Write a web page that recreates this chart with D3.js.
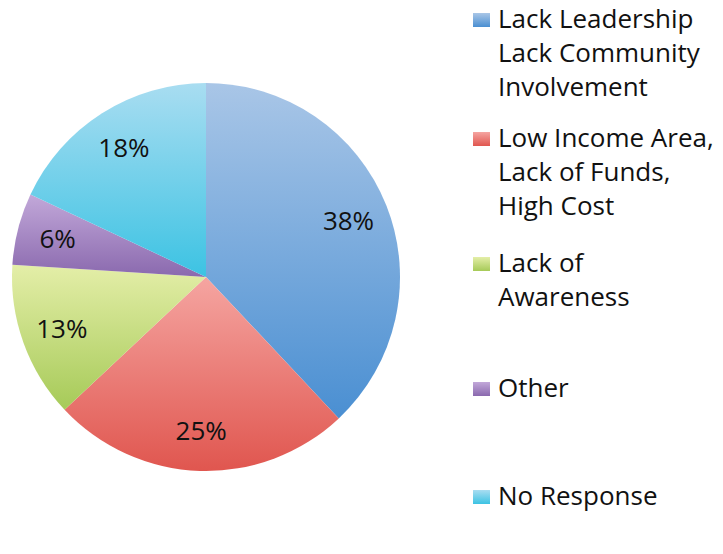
<!DOCTYPE html>
<html>
<head>
<meta charset="utf-8">
<script src="https://cdn.jsdelivr.net/npm/d3@7"></script>
<style>
  html, body { margin: 0; padding: 0; background: #fff; }
  svg { display: block; }
  text { font-family: "Open Sans", "DejaVu Sans", sans-serif; fill: #111; }
</style>
</head>
<body>
<svg id="chart" width="723" height="554"></svg>
<script>
// ---- data ----
const categories = [
  ["Lack Leadership", "Lack Community", "Involvement"],
  ["Low Income Area,", "Lack of Funds,", "High Cost"],
  ["Lack of", "Awareness"],
  ["Other"],
  ["No Response"]
];
const values = [38, 25, 13, 6, 18];
const percentLabels = ["38%", "25%", "13%", "6%", "18%"];

// ---- styles / layout ----
const colorsTop = ["#a9c6e7", "#f5a5a1", "#e4eea8", "#c2a8d9", "#a9ddf1"];
const colorsBottom = ["#4a8fd2", "#e0564f", "#a6ca58", "#8a69ae", "#3cc3e3"];
const legendFirstBaseline = [28, 147, 272, 397, 505];

const svg = d3.select("#chart");
const cx = 206, cy = 277, r = 194;

const defs = svg.append("defs");
values.forEach((v, i) => {
  const g = defs.append("linearGradient")
    .attr("id", "grad" + i)
    .attr("x1", 0).attr("y1", 0).attr("x2", 0).attr("y2", 1);
  g.append("stop").attr("offset", "0%").attr("stop-color", colorsTop[i]);
  g.append("stop").attr("offset", "100%").attr("stop-color", colorsBottom[i]);
});

const pie = d3.pie().sort(null).value(d => d);
const arcs = pie(values);
const arc = d3.arc().innerRadius(0).outerRadius(r);
const labelArc = d3.arc().innerRadius(r * 0.79).outerRadius(r * 0.79);

const g = svg.append("g").attr("transform", `translate(${cx},${cy})`);
g.selectAll("path.slice")
  .data(arcs)
  .join("path")
  .attr("class", "slice")
  .attr("d", arc)
  .attr("fill", (d, i) => `url(#grad${i})`)
  .attr("stroke", "none");

g.selectAll("text.pct")
  .data(arcs)
  .join("text")
  .attr("class", "pct")
  .attr("transform", d => `translate(${labelArc.centroid(d)})`)
  .attr("text-anchor", "middle")
  .attr("dy", "0.36em")
  .attr("font-size", 26)
  .text((d, i) => percentLabels[i]);

// ---- legend ----
const lineH = 34;
const leg = svg.append("g");
categories.forEach((lines, i) => {
  const y0 = legendFirstBaseline[i];
  leg.append("rect")
    .attr("x", 473).attr("y", y0 - 15)
    .attr("width", 17).attr("height", 14)
    .attr("fill", `url(#grad${i})`);
  const t = leg.append("text")
    .attr("x", 498).attr("y", y0)
    .attr("font-size", 26);
  lines.forEach((ln, j) => {
    t.append("tspan").attr("x", 498).attr("y", y0 + j * lineH).text(ln);
  });
});
</script>
</body>
</html>
